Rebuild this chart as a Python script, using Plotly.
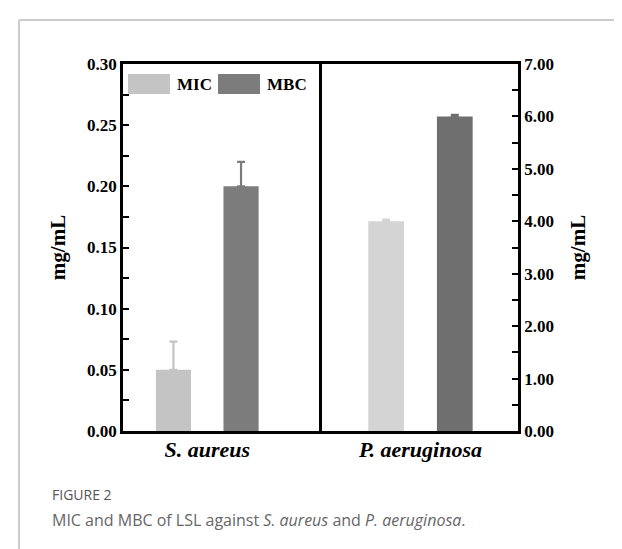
import plotly.graph_objects as go
from plotly.subplots import make_subplots

# ---- data ----
species = ["S. aureus", "P. aeruginosa"]
series = ["MIC", "MBC"]
mic_values = [0.05, 4.00]       # mg/mL
mic_errors = [0.023, 0.03]
mbc_values = [0.20, 6.00]       # mg/mL
mbc_errors = [0.02, 0.03]
left_ticks = [0.00, 0.05, 0.10, 0.15, 0.20, 0.25, 0.30]
right_ticks = [0.0, 1.0, 2.0, 3.0, 4.0, 5.0, 6.0, 7.0]

mic_colors = ["#c4c4c4", "#d4d4d4"]
mbc_colors = ["#7c7c7c", "#6f6f6f"]

serif = "Liberation Serif"

fig = make_subplots(rows=1, cols=2, horizontal_spacing=0)

for i, sp in enumerate(species):
    col = i + 1
    fig.add_trace(go.Bar(
        x=[sp], y=[mic_values[i]], name=series[0],
        marker=dict(color=mic_colors[i], line=dict(width=0)),
        error_y=dict(type="data", array=[mic_errors[i]], arrayminus=[0], symmetric=False,
                     color=mic_colors[i], thickness=2.2, width=4),
        showlegend=False, offsetgroup="mic"), row=1, col=col)
    fig.add_trace(go.Bar(
        x=[sp], y=[mbc_values[i]], name=series[1],
        marker=dict(color=mbc_colors[i], line=dict(width=0)),
        error_y=dict(type="data", array=[mbc_errors[i]], arrayminus=[0], symmetric=False,
                     color=mbc_colors[i], thickness=2.2, width=4),
        showlegend=False, offsetgroup="mbc"), row=1, col=col)

axis_font = dict(family=serif, size=17, color="black", weight="bold")
cat_font = dict(family=serif, size=22, color="black", weight="bold", style="italic")
title_font = dict(family=serif, size=21, color="black", weight="bold")

fig.update_layout(
    width=622, height=549,
    margin=dict(l=115, r=112, t=56, b=126),
    paper_bgcolor="white", plot_bgcolor="white",
    barmode="group", bargap=0.31, bargroupgap=0.48,
    showlegend=False,
    font=dict(family=serif, color="black"),
)

fig.update_xaxes(showline=True, linecolor="black", linewidth=2.5, mirror=True,
                 ticks="", showgrid=False, zeroline=False,
                 tickfont=cat_font, ticklabelstandoff=-3)
fig.update_xaxes(domain=[0, 0.496], range=[-0.43, 0.57], row=1, col=1)
fig.update_xaxes(domain=[0.496, 1], range=[-0.51, 0.49], row=1, col=2)

fig.update_yaxes(range=[0, 0.30], tickvals=left_ticks, tickformat=".2f",
                 ticks="inside", ticklen=6, tickwidth=2, tickcolor="black",
                 minor=dict(dtick=0.025, ticks="inside", ticklen=6, tickwidth=2, tickcolor="black"),
                 showline=True, linecolor="black", linewidth=2.5, mirror=True,
                 showgrid=False, zeroline=False, tickfont=axis_font,
                 title=dict(text="mg/mL", font=title_font, standoff=16),
                 row=1, col=1)
fig.update_yaxes(range=[0, 7], tickvals=right_ticks, tickformat=".2f", side="right",
                 ticks="inside", ticklen=6, tickwidth=2, tickcolor="black",
                 minor=dict(dtick=0.5, ticks="inside", ticklen=6, tickwidth=2, tickcolor="black"),
                 showline=True, linecolor="black", linewidth=2.5,
                 showgrid=False, zeroline=False, tickfont=axis_font,
                 title=dict(text="mg/mL", font=title_font, standoff=18),
                 row=1, col=2)

# ---- custom legend (large swatches) ----
px0, pw, py0, ph = 115, 395, 56, 367
def px(x):
    return (x - px0) / pw
def py(y):
    return (py0 + ph - y) / ph

legend_items = [(series[0], mic_colors[0], 120, 162, 167), (series[1], mbc_colors[0], 210, 252, 257)]
for name, color, x0, x1, tx in legend_items:
    fig.add_shape(type="rect", xref="paper", yref="paper",
                  x0=px(x0), x1=px(x1), y0=py(86), y1=py(66),
                  fillcolor=color, line=dict(width=0))
    fig.add_annotation(xref="paper", yref="paper", x=px(tx), y=py(76),
                       text=f"<b>{name}</b>", showarrow=False, xanchor="left", yanchor="middle",
                       font=dict(family=serif, size=17, color="black"))

# ---- card border ----
border = "#cccccc"
fig.add_shape(type="line", xref="paper", yref="paper", x0=px(11), x1=px(640), y0=py(12), y1=py(12),
              line=dict(color=border, width=2))
fig.add_shape(type="line", xref="paper", yref="paper", x0=px(11), x1=px(11), y0=py(12), y1=py(560),
              line=dict(color=border, width=2))

# ---- caption ----
cap_font = "Open Sans"
fig.add_annotation(xref="paper", yref="paper", x=px(42), y=py(487), text="FIGURE 2",
                   showarrow=False, xanchor="left", yanchor="middle",
                   font=dict(family=cap_font, size=14, color="#555555"))
fig.add_annotation(xref="paper", yref="paper", x=px(42), y=py(512),
                   text="MIC and MBC of LSL against <i>S. aureus</i> and <i>P. aeruginosa</i>.",
                   showarrow=False, xanchor="left", yanchor="middle",
                   font=dict(family=cap_font, size=16, color="#666666"))

fig.write_html("out.html")
